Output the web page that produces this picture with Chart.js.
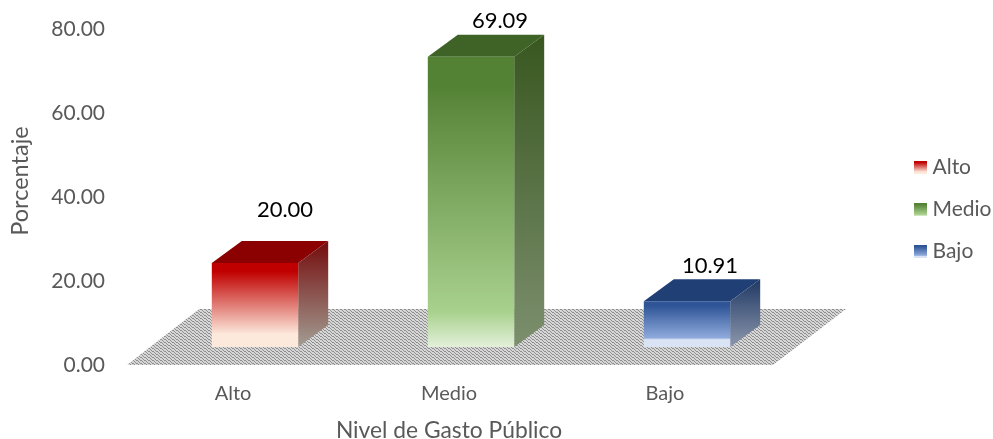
<!DOCTYPE html>
<html><head><meta charset="utf-8">
<style>html,body{margin:0;padding:0;background:#fff}#w{width:993px;height:439px}</style>
<script src="https://cdn.jsdelivr.net/npm/chart.js@4"></script></head>
<body><div id="w"><canvas id="c"></canvas></div>
<script>
const categories = ['Alto','Medio','Bajo'];
const values = [20.00,69.09,10.91];
const yTicks = [0,20,40,60,80];
const seriesLabel = 'Porcentaje';
const xTitle = 'Nivel de Gasto Público';
const FONT = 'Lato, "Open Sans", sans-serif';
const front = [
 [[0,'#C00000'],[0.1,'#C00000'],[0.85,'#FDE9DC'],[1,'#FDE9DC']],
 [[0,'#548235'],[0.1,'#548235'],[0.88,'#A9D18E'],[1,'#E2F0D9']],
 [[0,'#2F5597'],[0.1,'#2F5597'],[0.8,'#8FAADC'],[0.84,'#DAE3F3'],[1,'#DAE3F3']]
];
const topFace = ['#8B0000','#3F6327','#203F74'];
const sideFace = [
 [[0,'#730B0B'],[1,'#A39D93']],
 [[0,'#38571F'],[1,'#7C8F6E']],
 [[0,'#1F3864'],[1,'#8C97AC']]
];
const shift = {x:22,y:-18}, depth = {x:30,y:-22};
const labelOffset = [[30,-53],[29,-36],[23,-35]];

function grad(ctx,x0,y0,x1,y1,stops){const g=ctx.createLinearGradient(x0,y0,x1,y1);stops.forEach(s=>g.addColorStop(s[0],s[1]));return g;}
function floorPattern(){
  const p=document.createElement('canvas');p.width=4;p.height=3;const c=p.getContext('2d');
  c.fillStyle='#D6D6D6';c.fillRect(0,0,4,3);
  c.fillStyle='#8E8E8E';c.fillRect(0,0,2,1);c.fillRect(2,1,1,1);c.fillRect(3,2,1,1);
  return p;
}
function swatch(stops){
  const p=document.createElement('canvas');p.width=13;p.height=13;const c=p.getContext('2d');
  c.fillStyle=grad(c,0,0,0,13,stops);c.fillRect(0,0,13,13);return p;
}
const swatches = front.map(swatch);
const scene={
 id:'scene',
 beforeLayout(chart){
   const lg=chart.legend;
   if(lg&&!lg._wrapped){lg._wrapped=true;const f=lg.fit.bind(lg);lg.fit=function(){f();this.width=993-773;};}
 },
 afterLayout(chart){
   const lg=chart.legend; lg.left=898; lg.top=136;
 },
 beforeDatasetsDraw(chart){
   const {ctx,chartArea:a}=chart;
   ctx.save();
   ctx.fillStyle=ctx.createPattern(floorPattern(),'repeat');
   const h=a.bottom-309;
   ctx.beginPath();
   ctx.moveTo(a.left+2,a.bottom);ctx.lineTo(a.right,a.bottom);
   ctx.lineTo(a.right+73,a.bottom-h);ctx.lineTo(a.left+74,a.bottom-h);
   ctx.closePath();ctx.fill();
   ctx.restore();
   const bars=chart.getDatasetMeta(0).data;
   ctx.save();ctx.translate(shift.x,shift.y);
   bars.forEach((b,i)=>{
     const l=b.x-b.width/2,r=b.x+b.width/2,t=b.y,bt=b.base;
     ctx.fillStyle=topFace[i];
     ctx.beginPath();ctx.moveTo(l,t);ctx.lineTo(l+depth.x,t+depth.y);ctx.lineTo(r+depth.x,t+depth.y);ctx.lineTo(r,t);ctx.closePath();ctx.fill();
     ctx.fillStyle=grad(ctx,0,t+depth.y,0,bt,sideFace[i]);
     ctx.beginPath();ctx.moveTo(r,t);ctx.lineTo(r+depth.x,t+depth.y);ctx.lineTo(r+depth.x,bt+depth.y);ctx.lineTo(r,bt);ctx.closePath();ctx.fill();
   });
   ctx.restore();
   ctx.save();ctx.translate(shift.x,shift.y);
 },
 afterDatasetsDraw(chart){
   const {ctx}=chart;
   ctx.restore();
   const bars=chart.getDatasetMeta(0).data;
   ctx.save();
   ctx.font='22px '+FONT;ctx.fillStyle='#000';ctx.textAlign='center';ctx.textBaseline='middle';
   bars.forEach((b,i)=>{
     ctx.fillText(values[i].toFixed(2),b.x+shift.x+labelOffset[i][0],b.y+shift.y+labelOffset[i][1]);
   });
   ctx.font='23.5px '+FONT;ctx.fillStyle='#595959';
   ctx.translate(20,181);ctx.rotate(-Math.PI/2);ctx.fillText(seriesLabel,0,0);
   ctx.restore();
 }
};
const cv=document.getElementById('c');
const cx=cv.getContext('2d');
new Chart(cv,{
 type:'bar',
 data:{labels:categories,datasets:[{label:seriesLabel,data:values,
   backgroundColor(c){
     const y=c.chart.scales.y; if(!y||c.dataIndex==null)return '#888';
     return grad(cx,0,y.getPixelForValue(values[c.dataIndex]),0,y.getPixelForValue(0),front[c.dataIndex]);},
   barPercentage:0.4,categoryPercentage:1,borderWidth:0}]},
 options:{
  responsive:true,maintainAspectRatio:false,animation:false,
  layout:{padding:{top:29,left:0,right:0,bottom:0}},
  plugins:{tooltip:{enabled:false},
   legend:{position:'right',align:'start',
    labels:{padding:21,boxWidth:3,boxHeight:13,usePointStyle:true,color:'#595959',font:{family:FONT,size:21},
     generateLabels(){return categories.map((t,i)=>({text:t,pointStyle:swatches[i],
       fillStyle:front[i][0][1],strokeStyle:'transparent',lineWidth:0,index:i,datasetIndex:0,hidden:false,fontColor:'#595959'}));}
    }}},
  scales:{
   x:{grid:{display:false},border:{display:false},
      ticks:{color:'#595959',font:{family:FONT,size:20},padding:9,maxRotation:0},
      title:{display:true,text:xTitle,color:'#595959',font:{family:FONT,size:22.8},padding:{top:12,bottom:-5}},
      afterFit(s){s.height=439-365;}},
   y:{min:0,max:80,grid:{display:false},border:{display:false},
      afterBuildTicks(s){s.ticks=yTicks.map(v=>({value:v}));},
      ticks:{color:'#595959',font:{family:FONT,size:21},padding:12,callback:v=>Number(v).toFixed(2)},
      afterFit(s){s.width=125;}}
  }
 },
 plugins:[scene]
});
</script></body></html>
